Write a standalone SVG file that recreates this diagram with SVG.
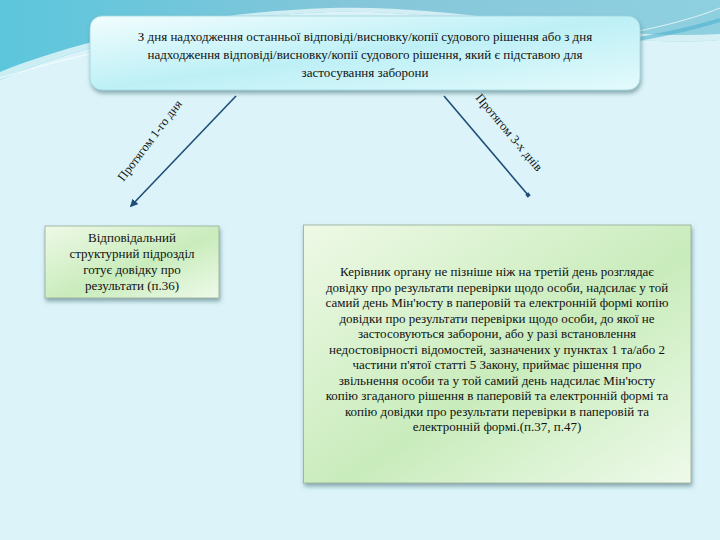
<svg xmlns="http://www.w3.org/2000/svg" width="720" height="540" viewBox="0 0 720 540" font-family="Liberation Serif, Times New Roman, serif">
<defs>
<linearGradient id="bgTop" x1="0" y1="0" x2="1" y2="0">
<stop offset="0" stop-color="#5cc6dc"/>
<stop offset="0.5" stop-color="#86c6da"/>
<stop offset="1" stop-color="#8fd0e0"/>
</linearGradient>
<linearGradient id="topBox" x1="0" y1="0" x2="1" y2="1">
<stop offset="0" stop-color="#f2fdfe"/>
<stop offset="0.5" stop-color="#bdf0f6"/>
<stop offset="1" stop-color="#e4fafc"/>
</linearGradient>
<linearGradient id="greenBox" x1="0" y1="0" x2="1" y2="1">
<stop offset="0" stop-color="#eef9e6"/>
<stop offset="0.55" stop-color="#c9ecbc"/>
<stop offset="1" stop-color="#eefaea"/>
</linearGradient>
<filter id="shadow" x="-10%" y="-10%" width="120%" height="130%">
<feDropShadow dx="1" dy="3" stdDeviation="2" flood-color="#3a6a70" flood-opacity="0.55"/>
</filter>
<marker id="arrow" viewBox="0 0 10 10" refX="8" refY="5" markerWidth="5" markerHeight="5" orient="auto">
<path d="M0,0 L10,5 L0,10 z" fill="#1f4e79"/>
</marker>
<marker id="dot" viewBox="0 0 10 10" refX="5" refY="5" markerWidth="3" markerHeight="3" orient="auto">
<rect x="1" y="1" width="8" height="8" fill="#1f4e79"/>
</marker>
</defs>
<style>
text{font-family:"Liberation Serif","Times New Roman",serif}
.t{font-size:13px;fill:#111;text-anchor:middle}
.lbl{font-size:12.5px;fill:#111}
.conn{stroke:#1f4e79;stroke-width:1.6;fill:none}
</style>
<rect width="720" height="540" fill="#dcf4f9"/>
<path d="M0,0 H720 V40 C600,50 470,8 330,12 C200,16 80,45 0,80 Z" fill="url(#bgTop)"/>
<path d="M0,80 C80,45 200,16 330,12 C470,8 600,50 720,40 V34 C600,42 470,4 330,8 C200,12 80,40 0,72 Z" fill="#e6f7fa" opacity="0.8"/>
<path d="M0,78 C60,60 100,50 160,42" stroke="#ffffff" stroke-width="1" fill="none" opacity="0.7"/>
<path d="M600,38 C650,30 690,20 720,8" stroke="#ffffff" stroke-width="1" fill="none" opacity="0.7"/>
<path d="M610,44 C660,36 695,28 720,20" stroke="#4fb3cf" stroke-width="4" fill="none" opacity="0.6"/>

<g id="connectors">
<line class="conn" x1="236" y1="96" x2="131" y2="206" marker-end="url(#arrow)"/>
<text class="lbl" font-family="Liberation Serif, serif" transform="translate(153,143) rotate(-53)" text-anchor="middle">Протягом 1-го дня</text>
<line class="conn" x1="444" y1="96" x2="528" y2="195" marker-end="url(#dot)"/>
<text class="lbl" font-family="Liberation Serif, serif" transform="translate(506,135) rotate(50)" text-anchor="middle">Протягом 3-х днів</text>
</g>

<g id="node-top" font-family="Liberation Serif, serif">
<rect x="90" y="16" width="550" height="74" rx="12" fill="url(#topBox)" stroke="#9fd6df" stroke-width="0.8" filter="url(#shadow)"/>
<text class="t" x="365" y="41">З дня надходження останньої відповіді/висновку/копії судового рішення або з дня</text>
<text class="t" x="365" y="59">надходження відповіді/висновку/копії судового рішення, який є підставою для</text>
<text class="t" x="365" y="77">застосування заборони</text>
</g>

<g id="node-left" font-family="Liberation Serif, serif">
<rect x="45" y="226" width="174" height="72" fill="url(#greenBox)" stroke="#9aaa98" stroke-width="0.8" filter="url(#shadow)"/>
<text class="t" x="132" y="242">Відповідальний</text>
<text class="t" x="132" y="258">структурний підрозділ</text>
<text class="t" x="132" y="274">готує довідку про</text>
<text class="t" x="132" y="290">результати (п.36)</text>
</g>

<g id="node-right" font-family="Liberation Serif, serif">
<rect x="303.5" y="225" width="387.5" height="258" fill="url(#greenBox)" stroke="#9aaa98" stroke-width="0.8" filter="url(#shadow)"/>
<text class="t" x="497" y="276">Керівник органу не пізніше ніж на третій день розглядає</text>
<text class="t" x="497" y="291.5">довідку про результати перевірки щодо особи, надсилає у той</text>
<text class="t" x="497" y="307">самий день Мін'юсту в паперовій та електронній формі копію</text>
<text class="t" x="497" y="322.5">довідки про результати перевірки щодо особи, до якої не</text>
<text class="t" x="497" y="338">застосовуються заборони, або у разі встановлення</text>
<text class="t" x="497" y="353.5">недостовірності відомостей, зазначених у пунктах 1 та/або 2</text>
<text class="t" x="497" y="369">частини п'ятої статті 5 Закону, приймає рішення про</text>
<text class="t" x="497" y="384.5">звільнення особи та у той самий день надсилає Мін'юсту</text>
<text class="t" x="497" y="400">копію згаданого рішення в паперовій та електронній формі та</text>
<text class="t" x="497" y="415.5">копію довідки про результати перевірки в паперовій та</text>
<text class="t" x="497" y="431">електронній формі.(п.37, п.47)</text>
</g>
</svg>
